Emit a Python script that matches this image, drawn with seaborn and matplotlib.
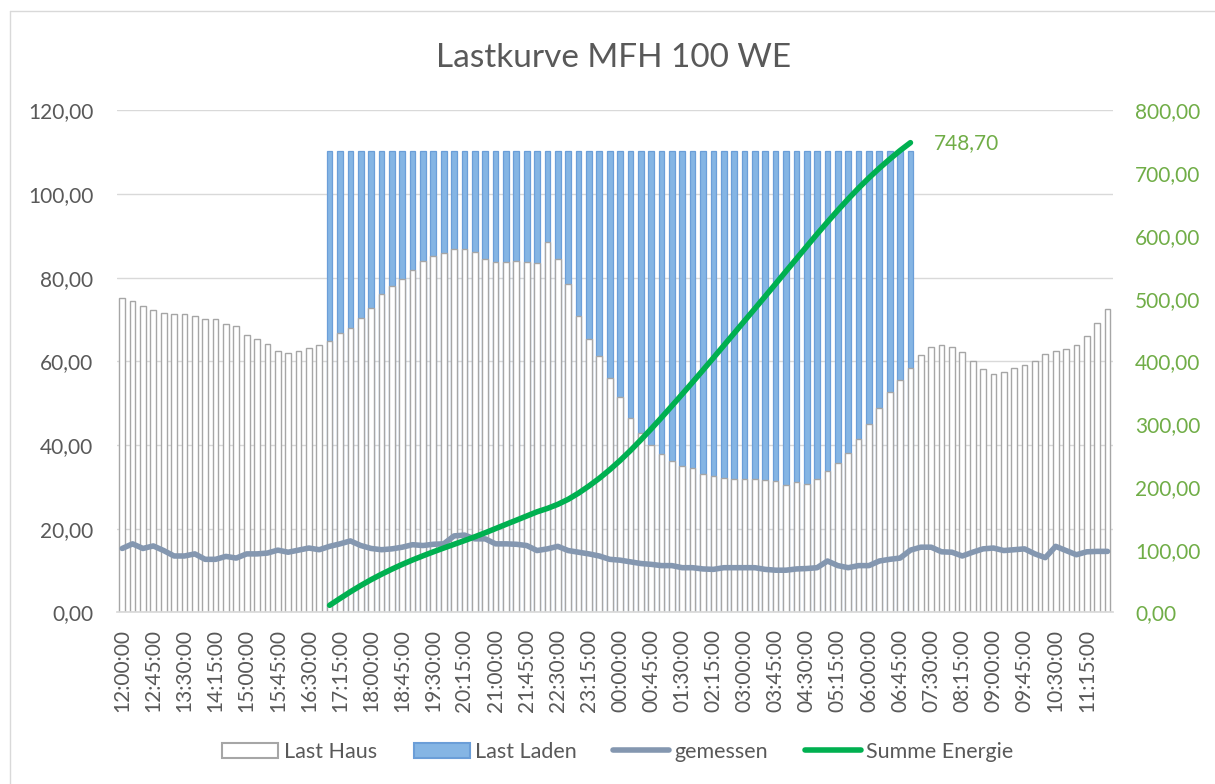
import numpy as np
import pandas as pd
import matplotlib
matplotlib.use("Agg")
import matplotlib.pyplot as plt
import seaborn as sns
from matplotlib.patches import Patch
from matplotlib.lines import Line2D

# 15-Minuten-Raster von 12:00 bis 11:45 am Folgetag
zeiten = pd.date_range("2021-01-01 12:00", periods=96, freq="15min").strftime("%H:%M:%S").tolist()

last_haus = [75.1, 74.5, 73.3, 72.2, 71.7, 71.3, 71.3, 70.8, 70.1, 70.1, 68.9, 68.4, 66.4, 65.4, 64.1, 62.6, 62.0, 62.4, 63.1, 64.0,
             64.8, 66.7, 68.1, 70.3, 72.8, 76.2, 78.0, 79.8, 81.9, 84.1, 85.3, 86.0, 86.8, 86.8, 86.1, 84.6, 83.7, 83.7, 83.9, 83.7,
             83.6, 88.6, 84.4, 78.4, 70.8, 65.3, 61.3, 56.1, 51.5, 46.6, 42.9, 40.0, 37.9, 36.3, 35.0, 34.5, 33.2, 32.6, 32.2, 31.8,
             31.8, 31.8, 31.6, 31.4, 30.4, 31.2, 30.7, 31.8, 33.7, 35.7, 38.0, 41.4, 45.1, 48.8, 52.7, 55.6, 58.4, 61.6, 63.4, 63.9,
             63.4, 62.2, 60.2, 58.1, 57.0, 57.6, 58.4, 59.1, 60.2, 61.7, 62.6, 63.0, 64.0, 66.0, 69.1, 72.6]

# Laden von 17:00 bis 07:00
laden_start = 20
last_laden = [45.6, 43.7, 42.3, 40.1, 37.6, 34.2, 32.4, 30.6, 28.5, 26.3, 25.1, 24.4, 23.6, 23.6, 24.3, 25.8, 26.7, 26.7, 26.5, 26.7,
              26.8, 21.8, 26.0, 32.0, 39.6, 45.1, 49.1, 54.3, 58.9, 63.8, 67.5, 70.4, 72.5, 74.1, 75.4, 75.9, 77.2, 77.8, 78.2, 78.6,
              78.6, 78.6, 78.8, 79.0, 80.0, 79.2, 79.7, 78.6, 76.7, 74.7, 72.4, 69.0, 65.3, 61.6, 57.7, 54.8, 52.0]

gemessen = [15.3, 16.4, 15.3, 15.9, 14.8, 13.5, 13.5, 14.0, 12.7, 12.7, 13.4, 13.0, 14.0, 14.0, 14.2, 14.9, 14.4, 14.9, 15.4, 15.0,
            15.8, 16.4, 17.1, 16.0, 15.3, 15.0, 15.2, 15.6, 16.2, 16.0, 16.3, 16.4, 18.3, 18.5, 17.6, 17.6, 16.4, 16.4, 16.3, 16.0,
            14.8, 15.2, 15.8, 14.8, 14.4, 14.0, 13.5, 12.7, 12.5, 12.1, 11.7, 11.5, 11.2, 11.2, 10.7, 10.7, 10.4, 10.3, 10.7, 10.7,
            10.7, 10.7, 10.3, 10.1, 10.1, 10.4, 10.5, 10.7, 12.3, 11.2, 10.7, 11.2, 11.2, 12.3, 12.7, 13.0, 14.9, 15.6, 15.6, 14.5,
            14.4, 13.5, 14.4, 15.2, 15.4, 14.8, 15.0, 15.2, 14.0, 13.1, 15.8, 14.8, 13.8, 14.5, 14.6, 14.6]

summe_energie = [11.4, 22.3, 32.9, 42.9, 52.3, 60.9, 69.0, 76.6, 83.7, 90.3, 96.6, 102.7, 108.6, 114.5, 120.6, 127.0, 133.7, 140.4,
                 147.0, 153.7, 160.4, 165.8, 172.3, 180.3, 190.2, 201.5, 213.8, 227.4, 242.1, 258.0, 274.9, 292.5, 310.6, 329.2,
                 348.0, 367.0, 386.3, 405.7, 425.3, 444.9, 464.6, 484.2, 503.9, 523.7, 543.7, 563.5, 583.4, 603.1, 622.2, 640.9,
                 659.0, 676.3, 692.6, 708.0, 722.4, 736.1, 748.7]

df = pd.DataFrame({"pos": np.arange(len(zeiten)), "zeit": zeiten, "haus": last_haus, "gemessen": gemessen})
laden_idx = np.arange(laden_start, laden_start + len(last_laden))
df_laden = df.loc[laden_idx].copy()
df_laden["gesamt"] = df_laden["haus"] + np.array(last_laden)
df_laden["summe"] = summe_energie

sns.set_theme(style="white")
plt.rcParams["font.family"] = ["Lato", "DejaVu Sans"]

grau = "#595959"
gruen_txt = "#70ad47"
blau = "#85b5e4"
blau_rand = "#6b9ed8"
linie_grau = "#8497b0"
linie_gruen = "#00b050"

fig = plt.figure(figsize=(12.15, 7.84), dpi=100)
ax = fig.add_axes([0.0963, 0.2188, 0.8195, 0.6403])

# gestapelte Balken: erst Gesamt (blau), dann Haus (weiss) darüber
sns.barplot(data=df_laden, x="pos", y="gesamt", native_scale=True, color=blau, edgecolor=blau_rand,
            linewidth=0.9, saturation=1, width=0.55, ax=ax)
sns.barplot(data=df, x="pos", y="haus", native_scale=True, color="white", edgecolor="#a6a6a6",
            linewidth=1, saturation=1, width=0.55, ax=ax)
sns.lineplot(data=df, x="pos", y="gemessen", color=linie_grau, lw=4, ax=ax,
             solid_capstyle="round", solid_joinstyle="round")

ax.set_xlim(-0.5, 95.5)
ax.set_ylim(0, 120)
ax.set_yticks(np.arange(0, 121, 20))
ax.set_yticklabels([f"{v:.2f}".replace(".", ",") for v in np.arange(0, 121, 20)])
ax.set_xticks(df["pos"][::3])
ax.set_xticklabels(zeiten[::3], rotation=90)
ax.yaxis.grid(True, color="#d9d9d9", lw=1)
ax.set_axisbelow(True)
ax.set_xlabel("")
ax.set_ylabel("")
ax.tick_params(axis="y", length=0, pad=17, labelsize=15, labelcolor=grau)
ax.tick_params(axis="x", length=0, pad=12, labelsize=15, labelcolor=grau)
for s in ["top", "left", "right"]:
    ax.spines[s].set_visible(False)
ax.spines["bottom"].set_color("#d9d9d9")

ax2 = ax.twinx()
sns.lineplot(data=df_laden, x="pos", y="summe", color=linie_gruen, lw=4, ax=ax2,
             solid_capstyle="round", solid_joinstyle="round")
ax2.set_ylim(0, 800)
ax2.set_yticks(np.arange(0, 801, 100))
ax2.set_yticklabels([f"{v:.2f}".replace(".", ",") for v in np.arange(0, 801, 100)])
ax2.tick_params(axis="y", length=0, pad=16, labelsize=15, labelcolor=gruen_txt)
ax2.set_ylabel("")
ax2.grid(False)
for s in ax2.spines.values():
    s.set_visible(False)

letzter = df_laden.iloc[-1]
ax2.annotate(f"{letzter['summe']:.2f}".replace(".", ","), xy=(letzter["pos"], letzter["summe"]),
             xytext=(17, 0), textcoords="offset points", va="center", ha="left",
             fontsize=15, color=gruen_txt)

fig.text(0.505, 0.915, "Lastkurve MFH 100 WE", ha="center", va="baseline", fontsize=24, color=grau)

handles = [Patch(facecolor="white", edgecolor="#a6a6a6", lw=1.5),
           Patch(facecolor=blau, edgecolor=blau_rand, lw=1.5),
           Line2D([], [], color=linie_grau, lw=4, solid_capstyle="round"),
           Line2D([], [], color=linie_gruen, lw=4, solid_capstyle="round")]
fig.legend(handles, ["Last Haus", "Last Laden", "gemessen", "Summe Energie"], loc="center",
           bbox_to_anchor=(0.5086, 0.0408), ncol=4, frameon=False, fontsize=15.5,
           handlelength=2.6, handletextpad=0.25, columnspacing=1.7, labelcolor=grau)

# Rahmen des Diagrammbereichs (oben und links sichtbar)
fig.add_artist(Line2D([10 / 1215, 10 / 1215], [0, 1 - 11 / 784], transform=fig.transFigure, color="#d9d9d9", lw=1))
fig.add_artist(Line2D([10 / 1215, 1], [1 - 11 / 784, 1 - 11 / 784], transform=fig.transFigure, color="#d9d9d9", lw=1))

fig.savefig("out.png", dpi=100)
